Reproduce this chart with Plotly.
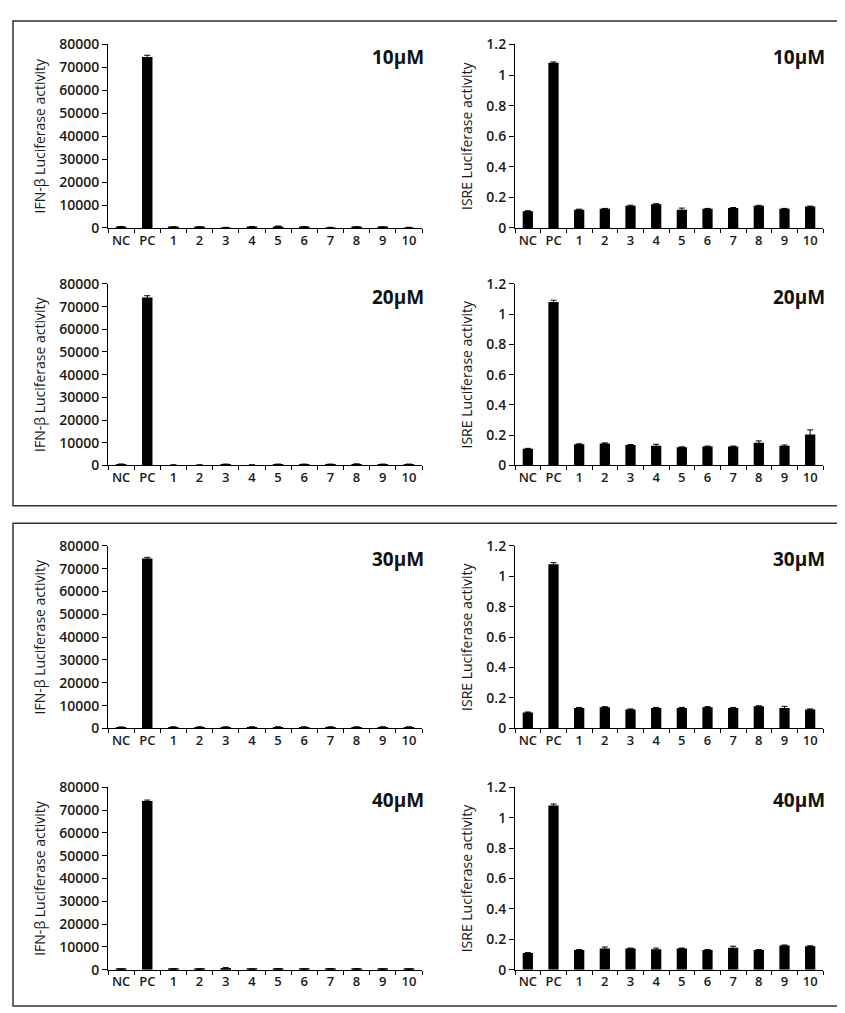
import plotly.graph_objects as go
from plotly.subplots import make_subplots

categories = ["NC", "PC", "1", "2", "3", "4", "5", "6", "7", "8", "9", "10"]
doses = ["10μM", "20μM", "30μM", "40μM"]

# IFN-beta luciferase activity, one list per dose
ifn_10 = [500, 74500, 400, 400, 200, 500, 700, 500, 200, 400, 400, 200]
ifn_10_err = [150, 800, 100, 100, 80, 100, 150, 100, 80, 100, 100, 80]
ifn_20 = [500, 74000, 200, 200, 500, 200, 500, 500, 500, 600, 500, 500]
ifn_20_err = [150, 800, 80, 80, 100, 80, 100, 100, 100, 100, 100, 100]
ifn_30 = [500, 74500, 600, 600, 600, 600, 600, 600, 600, 600, 600, 600]
ifn_30_err = [150, 500, 100, 100, 100, 100, 100, 100, 100, 100, 100, 100]
ifn_40 = [300, 74000, 300, 300, 800, 300, 400, 300, 400, 400, 300, 300]
ifn_40_err = [80, 400, 80, 80, 150, 80, 150, 80, 150, 150, 80, 80]

# ISRE luciferase activity
isre_10 = [0.11, 1.08, 0.12, 0.125, 0.145, 0.155, 0.12, 0.125, 0.13, 0.145, 0.125, 0.14]
isre_10_err = [0.003, 0.006, 0.003, 0.003, 0.004, 0.004, 0.01, 0.003, 0.004, 0.003, 0.003, 0.003]
isre_20 = [0.11, 1.08, 0.14, 0.145, 0.135, 0.13, 0.12, 0.125, 0.125, 0.15, 0.13, 0.205]
isre_20_err = [0.003, 0.012, 0.003, 0.004, 0.003, 0.01, 0.003, 0.003, 0.003, 0.012, 0.005, 0.03]
isre_30 = [0.105, 1.08, 0.135, 0.14, 0.125, 0.135, 0.135, 0.14, 0.135, 0.145, 0.135, 0.125]
isre_30_err = [0.003, 0.01, 0.003, 0.003, 0.003, 0.003, 0.003, 0.003, 0.003, 0.004, 0.01, 0.003]
isre_40 = [0.11, 1.08, 0.13, 0.14, 0.14, 0.135, 0.14, 0.13, 0.145, 0.13, 0.16, 0.155]
isre_40_err = [0.003, 0.01, 0.003, 0.01, 0.003, 0.008, 0.003, 0.003, 0.01, 0.003, 0.003, 0.003]

ifn = [(ifn_10, ifn_10_err), (ifn_20, ifn_20_err), (ifn_30, ifn_30_err), (ifn_40, ifn_40_err)]
isre = [(isre_10, isre_10_err), (isre_20, isre_20_err), (isre_30, isre_30_err), (isre_40, isre_40_err)]

W, H = 845, 1013
FONT = "Open Sans"
XTICKFONT = dict(family=FONT, size=13, color="#1a1a1a", weight=600)
YTICKFONT = dict(family=FONT, size=14, color="#1a1a1a", weight=600)

# panel pixel boxes: (top, bottom) per row, (left, right) per column
rows_px = [(27, 214), (271, 456), (538, 724), (784, 970)]
cols_px = [(100, 414), (507, 815)]

fig = make_subplots(rows=4, cols=2)

for r in range(4):
    for c, (vals, errs) in enumerate([ifn[r], isre[r]]):
        fig.add_trace(go.Bar(
            x=categories, y=vals,
            marker=dict(color="black", line=dict(width=0)),
            error_y=dict(type="data", array=errs, color="black", thickness=1, width=3),
            showlegend=False,
        ), row=r + 1, col=c + 1)

fig.update_layout(bargap=0.6)

for r in range(4):
    top, bot = rows_px[r]
    for c in range(2):
        left, right = cols_px[c]
        idx = r * 2 + c + 1
        xa = "xaxis" if idx == 1 else "xaxis%d" % idx
        ya = "yaxis" if idx == 1 else "yaxis%d" % idx
        if c == 0:
            yrange, dtick, fmt, ytitle = [0, 80000], 10000, "d", "IFN-β Luciferase activity"
        else:
            yrange, dtick, fmt, ytitle = [0, 1.2], 0.2, "", "ISRE Luciferase activity"
        fig.layout[xa].update(
            domain=[left / W, right / W],
            showline=True, linecolor="black", linewidth=1,
            ticks="outside", ticklen=4, tickcolor="black", tickson="boundaries",
            tickangle=0, tickfont=XTICKFONT,
            showgrid=False, zeroline=False,
        )
        fig.layout[ya].update(
            domain=[1 - bot / H, 1 - top / H],
            range=yrange, dtick=dtick, tickformat=fmt,
            showline=True, linecolor="black", linewidth=1,
            ticks="outside", ticklen=5, tickcolor="black",
            tickfont=YTICKFONT,
            title=dict(text=ytitle, font=dict(family=FONT, size=14, color="#1a1a1a"), standoff=10),
            showgrid=False, zeroline=False,
        )
        fig.add_annotation(
            text="<b>%s</b>" % doses[r], xref="paper", yref="paper",
            x=(right + 4) / W, y=1 - (top + 13) / H, xanchor="right", yanchor="middle",
            showarrow=False, font=dict(family=FONT, size=19, color="#111"),
        )

# the two framed groups
for y0, y1 in [(3, 497), (515, 1007)]:
    fig.add_shape(type="rect", xref="paper", yref="paper",
                  x0=5 / W, x1=838 / W, y0=1 - y1 / H, y1=1 - y0 / H,
                  line=dict(color="#333", width=1.5))

fig.update_layout(
    width=W, height=H,
    margin=dict(l=0, r=0, t=0, b=0),
    paper_bgcolor="white", plot_bgcolor="white",
    font=dict(family=FONT),
)

fig.write_html("out.html")
